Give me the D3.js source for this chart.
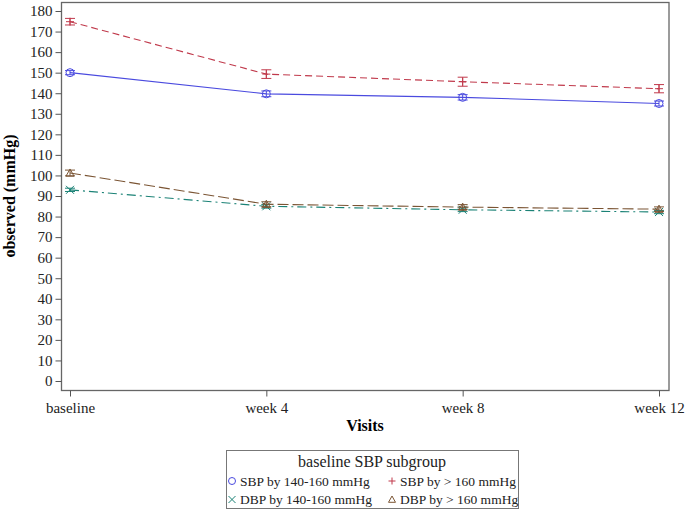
<!DOCTYPE html>
<html>
<head>
<meta charset="utf-8">
<script src="https://cdn.jsdelivr.net/npm/d3@7"></script>
<style>
  body { margin: 0; background: #fff; }
  svg { font-family: "Liberation Serif", "Times New Roman", serif; }
</style>
</head>
<body>
<svg id="chart" width="685" height="513"></svg>
<script>
// visits on the x axis
var visits = ["baseline", "week 4", "week 8", "week 12"];
var yTicks = d3.range(0, 181, 10);

// group means and half-width of the error bars
var sbpLow      = [150.0, 139.7, 138.0, 135.0];
var sbpLowErr   = [1.0, 1.4, 1.3, 1.2];
var sbpHigh     = [174.8, 149.3, 145.6, 142.2];
var sbpHighErr  = [1.6, 2.1, 2.2, 2.0];
var dbpLow      = [93.0, 85.0, 83.3, 82.2];
var dbpLowErr   = [0.8, 0.9, 0.9, 0.8];
var dbpHigh     = [101.2, 86.0, 84.6, 83.6];
var dbpHighErr  = [1.4, 1.2, 1.2, 1.1];

var series = [
    { name: "SBP by 140-160 mmHg", values: sbpLow,  err: sbpLowErr,  color: "#4a4adf", dash: null,      symbol: "circle" },
    { name: "SBP by > 160 mmHg",   values: sbpHigh, err: sbpHighErr, color: "#c0394b", dash: "7,4",     symbol: "plus" },
    { name: "DBP by 140-160 mmHg", values: dbpLow,  err: dbpLowErr,  color: "#1b8276", dash: "9,4,2,4", symbol: "x" },
    { name: "DBP by > 160 mmHg",   values: dbpHigh, err: dbpHighErr, color: "#7b5534", dash: "11,4",    symbol: "triangle" }
];

var svg = d3.select("#chart"),
    frameL = 61.5, frameT = 2.5, frameR = 669, frameB = 390.5;

var x = d3.scalePoint().domain(visits).range([70, 659]);
var y = d3.scaleLinear().domain([0, 180]).range([381, 11]);

// frame
svg.append("rect")
    .attr("x", frameL).attr("y", frameT)
    .attr("width", frameR - frameL).attr("height", frameB - frameT)
    .attr("fill", "none").attr("stroke", "#666").attr("stroke-width", 1.3);

// y axis
var gy = svg.append("g").attr("transform", "translate(" + frameL + ",0)")
    .call(d3.axisLeft(y).tickValues(yTicks).tickSize(6).tickPadding(3));
gy.select(".domain").remove();
gy.selectAll("line").attr("stroke", "#555");
gy.selectAll("text").attr("font-size", 15).attr("fill", "#222")
    .attr("font-family", "Liberation Serif");

// x axis
var gx = svg.append("g").attr("transform", "translate(0," + frameB + ")")
    .call(d3.axisBottom(x).tickSize(6).tickPadding(6));
gx.select(".domain").remove();
gx.selectAll("line").attr("stroke", "#555");
gx.selectAll("text").attr("font-size", 15).attr("fill", "#222")
    .attr("font-family", "Liberation Serif");

// axis titles
svg.append("text")
    .attr("x", 365).attr("y", 431)
    .attr("text-anchor", "middle").attr("font-weight", "bold").attr("font-size", 16)
    .text("Visits");
svg.append("text")
    .attr("transform", "translate(15,196) rotate(-90)")
    .attr("text-anchor", "middle").attr("font-weight", "bold").attr("font-size", 16)
    .text("observed (mmHg)");

function drawSymbol(g, type, cx, cy, color, r) {
    if (type == "circle") {
        g.append("circle").attr("cx", cx).attr("cy", cy).attr("r", r)
            .attr("fill", "none").attr("stroke", color).attr("stroke-width", 1);
    } else if (type == "plus") {
        g.append("path").attr("d", "M" + (cx - r) + "," + cy + "H" + (cx + r) + "M" + cx + "," + (cy - r) + "V" + (cy + r))
            .attr("stroke", color).attr("stroke-width", 1).attr("fill", "none");
    } else if (type == "x") {
        g.append("path").attr("d", "M" + (cx - r) + "," + (cy - r) + "L" + (cx + r) + "," + (cy + r) +
                "M" + (cx - r) + "," + (cy + r) + "L" + (cx + r) + "," + (cy - r))
            .attr("stroke", color).attr("stroke-width", 1).attr("fill", "none");
    } else {
        g.append("path").attr("d", "M" + cx + "," + (cy - r) + "L" + (cx + r) + "," + (cy + r * 0.8) +
                "L" + (cx - r) + "," + (cy + r * 0.8) + "Z")
            .attr("stroke", color).attr("stroke-width", 1).attr("fill", "none");
    }
}

var line = d3.line().x((d, i) => x(visits[i])).y(d => y(d));

series.forEach(function(s) {
    var g = svg.append("g");
    g.append("path")
        .attr("d", line(s.values))
        .attr("fill", "none").attr("stroke", s.color).attr("stroke-width", 1.1)
        .attr("stroke-dasharray", s.dash);
    s.values.forEach(function(v, i) {
        var cx = x(visits[i]), lo = y(v - s.err[i]), hi = y(v + s.err[i]);
        g.append("path")
            .attr("d", "M" + cx + "," + lo + "V" + hi +
                "M" + (cx - 5) + "," + lo + "H" + (cx + 5) +
                "M" + (cx - 5) + "," + hi + "H" + (cx + 5))
            .attr("stroke", s.color).attr("stroke-width", 1).attr("fill", "none");
        drawSymbol(g, s.symbol, cx, y(v), s.color, 4);
    });
});

// legend
var lg = svg.append("g");
lg.append("rect").attr("x", 226.5).attr("y", 450.5).attr("width", 292).attr("height", 58)
    .attr("fill", "#fff").attr("stroke", "#777").attr("stroke-width", 1);
lg.append("text").attr("x", 372).attr("y", 467).attr("text-anchor", "middle")
    .attr("font-size", 16).attr("fill", "#222").text("baseline SBP subgroup");
var legendPos = [[228, 485.5], [388, 485.5], [228, 504], [388, 504]];
series.forEach(function(s, i) {
    var p = legendPos[i];
    drawSymbol(lg, s.symbol, p[0] + 4, p[1] - 4.5, s.color, 3.5);
    lg.append("text").attr("x", p[0] + 12).attr("y", p[1])
        .attr("font-size", 13.5).attr("fill", "#222").text(s.name);
});
</script>
</body>
</html>
